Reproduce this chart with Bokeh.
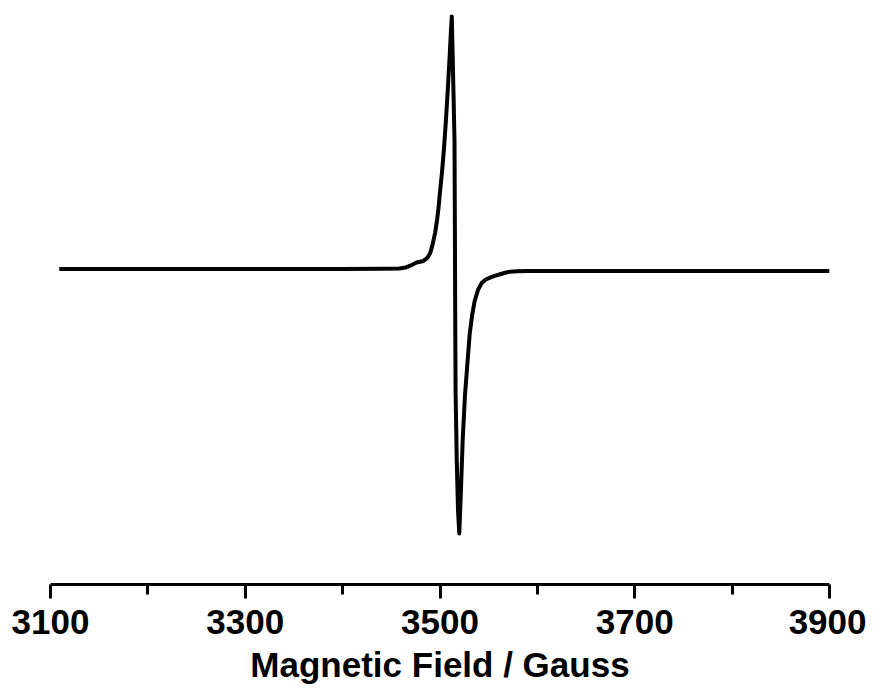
from bokeh.plotting import figure
from bokeh.models import Range1d, FixedTicker
from bokeh.embed import file_html
from bokeh.resources import INLINE

# Magnetic field (Gauss) and EPR signal intensity (arbitrary units)
field = [3109, 3200, 3300, 3400, 3440, 3458, 3465, 3470, 3476, 3483, 3487, 3490,
         3492.5, 3495, 3497, 3498.5, 3500, 3502, 3504, 3506, 3508, 3510,
         3511.2, 3512.1, 3513, 3514, 3514.9, 3515.3, 3515.6, 3516, 3517.2, 3518.5,
         3519.8, 3521.3, 3523.3, 3525.6, 3528, 3530.5, 3533, 3535.6, 3539, 3543,
         3547, 3551.4, 3556, 3561.7, 3567, 3572, 3579, 3590, 3650, 3750, 3900]
signal = [1, 1, 1, 1, 1.2, 1.5, 2.5, 4.5, 7.5, 9, 12, 17,
          26, 37, 50, 62, 78, 97, 120, 148, 180, 215,
          238, 253, 215, 170, 129, 40, -40, -121, -190, -240,
          -263, -225, -170, -126, -95, -64, -45, -31, -20, -12.7,
          -9.5, -7.7, -6, -4.3, -2.8, -1.7, -1.2, -1, -1, -1, -1]

major_ticks = [3100, 3300, 3500, 3700, 3900]
minor_ticks = [3200, 3400, 3600, 3800]

p = figure(width=866, height=686, output_backend="svg", toolbar_location=None,
           x_range=Range1d(3100, 3900), y_range=Range1d(-314, 259),
           min_border_left=50, min_border_right=37, min_border_top=10,
           min_border_bottom=10)
p.outline_line_color = None
p.xgrid.visible = False
p.ygrid.visible = False
p.yaxis.visible = False

p.line(field, signal, line_color="black", line_width=4, line_join="round")

ax = p.xaxis[0]
ax.ticker = FixedTicker(ticks=major_ticks, minor_ticks=minor_ticks)
ax.axis_line_width = 3
ax.axis_line_color = "black"
ax.major_tick_line_width = 3
ax.minor_tick_line_width = 3
ax.major_tick_in = 0
ax.major_tick_out = 14
ax.minor_tick_in = 0
ax.minor_tick_out = 10
ax.major_label_text_font = "Liberation Sans"
ax.major_label_text_font_style = "bold"
ax.major_label_text_font_size = "35px"
ax.major_label_text_color = "black"
ax.major_label_standoff = 11
ax.axis_label = "Magnetic Field / Gauss"
ax.axis_label_text_font = "Liberation Sans"
ax.axis_label_text_font_style = "bold"
ax.axis_label_text_font_size = "35px"
ax.axis_label_text_color = "black"
ax.axis_label_standoff = 8

open("out.html", "w").write(file_html(p, INLINE))
